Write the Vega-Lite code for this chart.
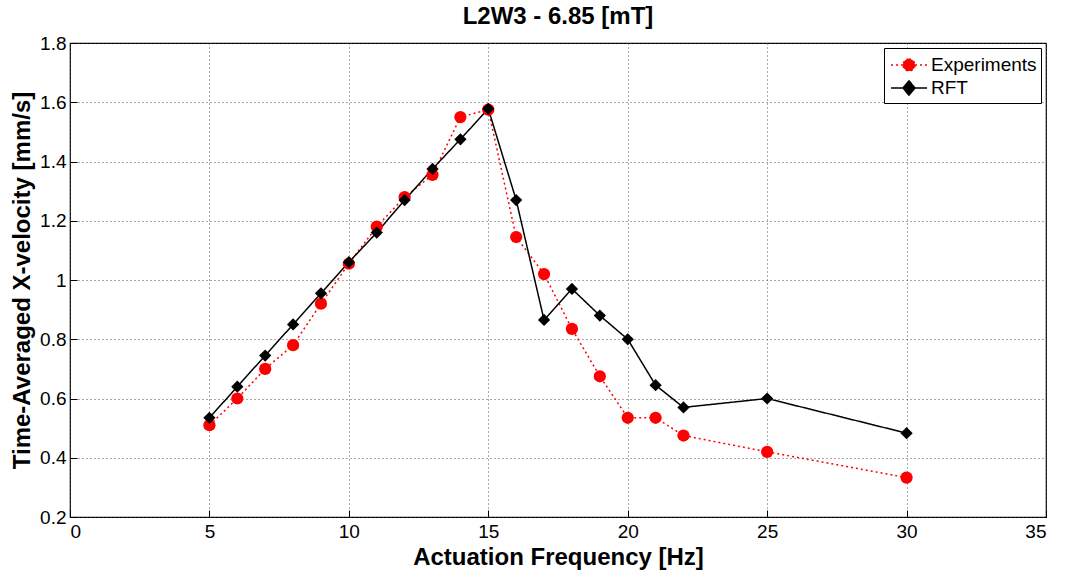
{
  "$schema": "https://vega.github.io/schema/vega-lite/v6.json",
  "width": 976,
  "height": 474,
  "autosize": {"type": "none"},
  "padding": {"left": 70, "top": 43, "right": 30, "bottom": 55},
  "background": "white",
  "title": {"text": "L2W3 - 6.85 [mT]", "font": "Liberation Sans", "fontSize": 24, "fontWeight": "bold", "color": "#000", "offset": 5},
  "config": {
    "font": "Liberation Sans",
    "view": {"stroke": "#000", "strokeWidth": 1.2},
    "axis": {
      "labelFont": "Liberation Sans", "labelFontSize": 19, "labelColor": "#000",
      "titleFont": "Liberation Sans", "titleFontSize": 24, "titleFontWeight": "bold", "titleColor": "#000",
      "domain": false, "tickColor": "#000", "tickSize": -7,
      "grid": true, "gridColor": "#444", "gridDash": [1, 3], "gridWidth": 1, "gridOpacity": 0.9
    }
  },
  "data": {"values": [
    {"f": 5, "v": 0.51, "s": "Experiments"},
    {"f": 6, "v": 0.60, "s": "Experiments"},
    {"f": 7, "v": 0.70, "s": "Experiments"},
    {"f": 8, "v": 0.78, "s": "Experiments"},
    {"f": 9, "v": 0.92, "s": "Experiments"},
    {"f": 10, "v": 1.055, "s": "Experiments"},
    {"f": 11, "v": 1.18, "s": "Experiments"},
    {"f": 12, "v": 1.28, "s": "Experiments"},
    {"f": 13, "v": 1.355, "s": "Experiments"},
    {"f": 14, "v": 1.55, "s": "Experiments"},
    {"f": 15, "v": 1.575, "s": "Experiments"},
    {"f": 16, "v": 1.145, "s": "Experiments"},
    {"f": 17, "v": 1.02, "s": "Experiments"},
    {"f": 18, "v": 0.835, "s": "Experiments"},
    {"f": 19, "v": 0.675, "s": "Experiments"},
    {"f": 20, "v": 0.535, "s": "Experiments"},
    {"f": 21, "v": 0.535, "s": "Experiments"},
    {"f": 22, "v": 0.475, "s": "Experiments"},
    {"f": 25, "v": 0.42, "s": "Experiments"},
    {"f": 30, "v": 0.333, "s": "Experiments"},
    {"f": 5, "v": 0.535, "s": "RFT"},
    {"f": 6, "v": 0.64, "s": "RFT"},
    {"f": 7, "v": 0.745, "s": "RFT"},
    {"f": 8, "v": 0.85, "s": "RFT"},
    {"f": 9, "v": 0.955, "s": "RFT"},
    {"f": 10, "v": 1.06, "s": "RFT"},
    {"f": 11, "v": 1.16, "s": "RFT"},
    {"f": 12, "v": 1.27, "s": "RFT"},
    {"f": 13, "v": 1.375, "s": "RFT"},
    {"f": 14, "v": 1.475, "s": "RFT"},
    {"f": 15, "v": 1.578, "s": "RFT"},
    {"f": 16, "v": 1.27, "s": "RFT"},
    {"f": 17, "v": 0.865, "s": "RFT"},
    {"f": 18, "v": 0.97, "s": "RFT"},
    {"f": 19, "v": 0.88, "s": "RFT"},
    {"f": 20, "v": 0.80, "s": "RFT"},
    {"f": 21, "v": 0.645, "s": "RFT"},
    {"f": 22, "v": 0.57, "s": "RFT"},
    {"f": 25, "v": 0.60, "s": "RFT"},
    {"f": 30, "v": 0.483, "s": "RFT"}
  ]},
  "encoding": {
    "x": {"field": "f", "type": "quantitative", "title": "Actuation Frequency [Hz]",
      "scale": {"domain": [0, 35], "nice": false, "zero": false},
      "axis": {"values": [0, 5, 10, 15, 20, 25, 30, 35], "labelPadding": 12, "titlePadding": 4}},
    "y": {"field": "v", "type": "quantitative", "title": "Time-Averaged X-velocity [mm/s]",
      "scale": {"domain": [0.2, 1.8], "nice": false, "zero": false},
      "axis": {"values": [0.2, 0.4, 0.6, 0.8, 1, 1.2, 1.4, 1.6, 1.8], "format": "~g", "labelPadding": 11, "titlePadding": 5}}
  },
  "layer": [
    {
      "mark": {"type": "line", "strokeWidth": 1.5},
      "encoding": {
        "color": {"field": "s", "type": "nominal", "scale": {"domain": ["Experiments", "RFT"], "range": ["#ff0000", "#000000"]}, "legend": null},
        "strokeDash": {"field": "s", "type": "nominal", "scale": {"domain": ["Experiments", "RFT"], "range": [[2, 3], [1, 0]]}, "legend": null}
      }
    },
    {
      "mark": {"type": "point", "filled": true, "size": 150, "opacity": 1},
      "encoding": {
        "color": {"field": "s", "type": "nominal", "scale": {"domain": ["Experiments", "RFT"], "range": ["#ff0000", "#000000"]}, "legend": null},
        "shape": {"field": "s", "type": "nominal", "scale": {"domain": ["Experiments", "RFT"], "range": ["circle", "diamond"]}, "legend": null}
      }
    },
    {
      "mark": {"type": "point", "filled": true, "size": 0, "opacity": 1, "strokeWidth": 1.5},
      "encoding": {
        "color": {"field": "s", "type": "nominal", "scale": {"domain": ["Experiments", "RFT"], "range": ["#ff0000", "#000000"]},
          "legend": {"title": null, "orient": "top-right", "offset": 5, "labelFontSize": 19, "labelColor": "#000", "fillColor": "white", "strokeColor": "#000", "padding": 4, "symbolSize": 576, "symbolOpacity": 1, "symbolStrokeWidth": 1.5, "symbolOffset": 8, "labelOffset": 9, "rowPadding": 0}},
        "stroke": {"field": "s", "type": "nominal", "scale": {"domain": ["Experiments", "RFT"], "range": ["#ff0000", "#000000"]}},
        "strokeDash": {"field": "s", "type": "nominal", "scale": {"domain": ["Experiments", "RFT"], "range": [[2, 3], [1, 0]]}},
        "shape": {"field": "s", "type": "nominal", "scale": {"domain": ["Experiments", "RFT"], "range": [
          "M-1.5,0L-0.5,0M0.5,0L1.5,0M0,-0.5A0.5,0.5 0 1,1 0,0.5A0.5,0.5 0 1,1 0,-0.5Z",
          "M-1.5,0L1.5,0M0,-0.6L0.5,0L0,0.6L-0.5,0Z"
        ]}}
      }
    }
  ],
  "resolve": {"scale": {"color": "independent", "shape": "independent", "strokeDash": "independent", "stroke": "independent"}}
}
